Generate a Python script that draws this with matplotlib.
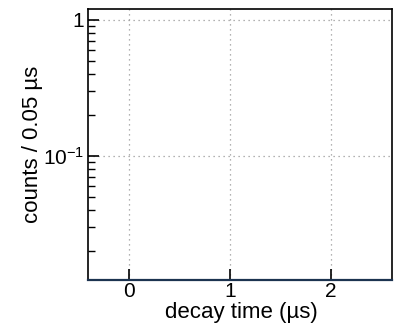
import numpy as np
import matplotlib
matplotlib.use("Agg")
import matplotlib.pyplot as plt
from matplotlib.ticker import FixedLocator, LogLocator, NullFormatter, FixedFormatter

plt.rcParams["font.family"] = ["Liberation Sans", "DejaVu Sans"]
plt.rcParams["mathtext.fontset"] = "custom"
plt.rcParams["mathtext.rm"] = "Liberation Sans"
plt.rcParams["mathtext.it"] = "Liberation Sans:italic"

# axis setup
x_range = (-0.4, 2.6)
y_range = (0.0122, 1.2)
x_ticks = [0, 1, 2]
x_tick_labels = ["0", "1", "2"]
y_ticks = [0.1, 1]
y_tick_labels = [r"$10^{-1}$", "1"]

fig = plt.figure(figsize=(4.02, 3.30), dpi=100)
ax = fig.add_axes([88 / 402, 1 - 280 / 330, (392 - 88) / 402, (280 - 9) / 330])

ax.set_yscale("log")
ax.set_xlim(*x_range)
ax.set_ylim(*y_range)

ax.xaxis.set_major_locator(FixedLocator(x_ticks))
ax.xaxis.set_major_formatter(FixedFormatter(x_tick_labels))
ax.yaxis.set_major_locator(FixedLocator(y_ticks))
ax.yaxis.set_major_formatter(FixedFormatter(y_tick_labels))
ax.yaxis.set_minor_locator(LogLocator(base=10, subs=np.arange(2, 10)))
ax.yaxis.set_minor_formatter(NullFormatter())

ax.tick_params(axis="both", which="major", direction="in", length=8, width=1.2,
               labelsize=15, top=False, right=False, pad=3)
ax.tick_params(axis="x", which="major", pad=1.5)
ax.tick_params(axis="y", which="minor", direction="in", length=5, width=1.0, right=False)
ax.tick_params(axis="x", which="minor", bottom=False, top=False)

ax.grid(True, which="major", linestyle=(0, (1, 3)), color="#999999", lw=0.9)

for side in ("top", "left", "right"):
    ax.spines[side].set_linewidth(1.2)
    ax.spines[side].set_color("black")
ax.spines["bottom"].set_linewidth(1.6)
ax.spines["bottom"].set_color("#1c3350")

ax.set_xlabel("decay time (µs)", fontsize=16)
ax.xaxis.set_label_coords(0.505, -0.08)
ax.set_ylabel("counts / 0.05 µs", fontsize=16)
ax.yaxis.set_label_coords(-0.148, 0.5)

fig.savefig("out.png", dpi=100)
